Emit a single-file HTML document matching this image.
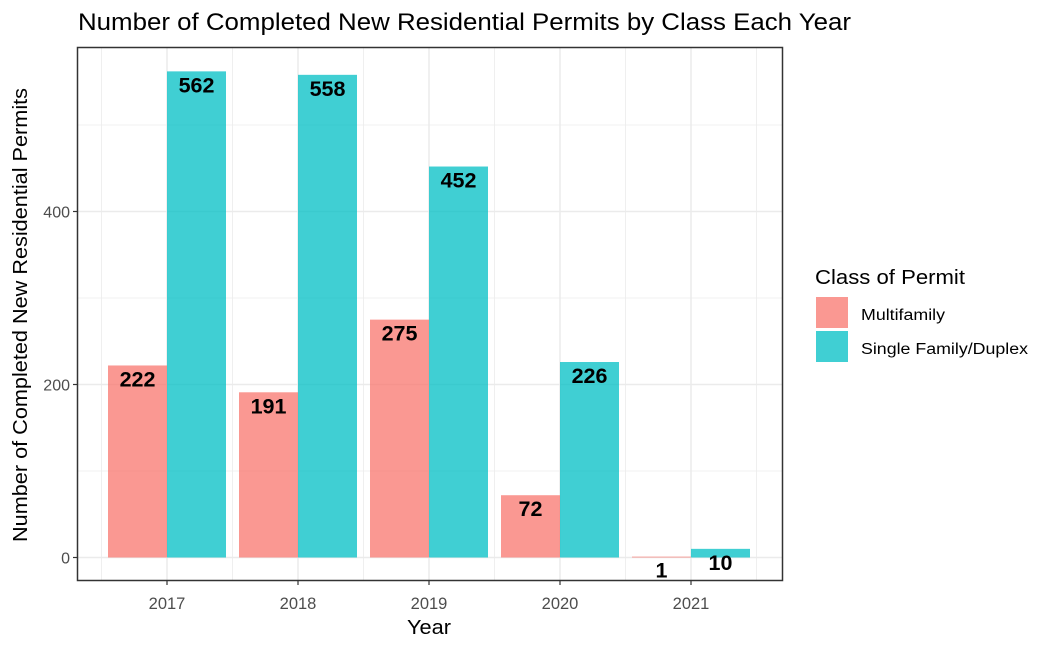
<!DOCTYPE html>
<html><head><meta charset="utf-8"><style>body{margin:0;background:#fff}svg{display:block}text{font-family:"Liberation Sans",Arial,sans-serif}</style></head>
<body>
<svg id="chart" width="1050" height="648" xmlns="http://www.w3.org/2000/svg">
<rect width="1050" height="648" fill="#fff"/>
<text x="78" y="30" font-size="24" textLength="773" lengthAdjust="spacingAndGlyphs" fill="#000">Number of Completed New Residential Permits by Class Each Year</text>
<g id="grid"></g><g id="bars"></g><g id="labels"></g>
<rect x="77.5" y="47.5" width="705" height="533" fill="none" stroke="#333" stroke-width="1.5"/>
<g id="axes"></g>
<text x="407" y="634" font-size="20" textLength="44" lengthAdjust="spacingAndGlyphs" fill="#000">Year</text>
<text transform="translate(27,542) rotate(-90)" font-size="20" textLength="454" lengthAdjust="spacingAndGlyphs" fill="#000">Number of Completed New Residential Permits</text>
<g>
<text x="815" y="284" font-size="20" textLength="150" lengthAdjust="spacingAndGlyphs" fill="#000">Class of Permit</text>
<rect x="816" y="297" width="32" height="31" fill="#F8766D" fill-opacity="0.75"/>
<text x="861" y="320" font-size="15.5" textLength="84" lengthAdjust="spacingAndGlyphs" fill="#000">Multifamily</text>
<rect x="816" y="331" width="32" height="31" fill="#00BFC4" fill-opacity="0.75"/>
<text x="861" y="354" font-size="15.5" textLength="167" lengthAdjust="spacingAndGlyphs" fill="#000">Single Family/Duplex</text>
</g>
</svg>
<script>
const years = [2017, 2018, 2019, 2020, 2021];
const multifamily = [222, 191, 275, 72, 1];
const singleFamily = [562, 558, 452, 226, 10];
const yTicks = [0, 200, 400];
const yMinor = [100, 300, 500];
const NS = "http://www.w3.org/2000/svg";
function xs(v){ return 167 + (v - 2017) * 131; }
function ys(v){ return 557.5 - v * 0.865; }
function mk(tag, attrs, parent, txt){ const e=document.createElementNS(NS,tag); for(const k in attrs) e.setAttribute(k,attrs[k]); if(txt!==undefined) e.textContent=txt; document.getElementById(parent).appendChild(e); return e; }
yMinor.forEach(v=>{ const l=mk('line',{x1:78,x2:782,y1:ys(v),y2:ys(v),stroke:'#ebebeb','stroke-width':0.8},'grid');
  });
yTicks.forEach(v=>{ const l=mk('line',{x1:78,x2:782,y1:ys(v),y2:ys(v),stroke:'#ebebeb','stroke-width':1.5},'grid');
  });
[2016.5,2017.5,2018.5,2019.5,2020.5,2021.5].forEach(v=>{ const l=mk('line',{x1:xs(v),x2:xs(v),y1:48,y2:580,stroke:'#ebebeb','stroke-width':0.8},'grid');
  });
years.forEach(v=>{ const l=mk('line',{x1:xs(v),x2:xs(v),y1:48,y2:580,stroke:'#ebebeb','stroke-width':1.5},'grid');
  });
const bw = 59;
function drawSeries(vals, color, off, name){
  vals.forEach((v,i)=>{
    const x = xs(years[i]) + off;
    const top = ys(v);
    const r = mk('rect',{x:x,y:top,width:bw,height:Math.max(ys(0)-top,0.8),fill:color,'fill-opacity':0.75},'bars');
    
    
    const t = mk('text',{x:x+bw/2,y:top+21,'font-size':21.5,'font-weight':'bold','text-anchor':'middle',fill:'#000'},'labels',String(v));
    
    
  });
}
drawSeries(multifamily,'#F8766D',-bw,'multifamily');
drawSeries(singleFamily,'#00BFC4',0,'single-family');
yTicks.forEach(v=>{
  const l=mk('line',{x1:73,x2:77,y1:ys(v),y2:ys(v),stroke:'#333','stroke-width':1.2},'axes');
   
  const t=mk('text',{x:70,y:ys(v)+6,'font-size':16,'text-anchor':'end',fill:'#4d4d4d'},'axes',String(v));
   
});
years.forEach(v=>{
  const l=mk('line',{x1:xs(v),x2:xs(v),y1:581,y2:585,stroke:'#333','stroke-width':1.2},'axes');
   
  const t=mk('text',{x:xs(v),y:609,'font-size':16.5,'text-anchor':'middle',fill:'#4d4d4d'},'axes',String(v));
   
});
</script>
</body></html>
